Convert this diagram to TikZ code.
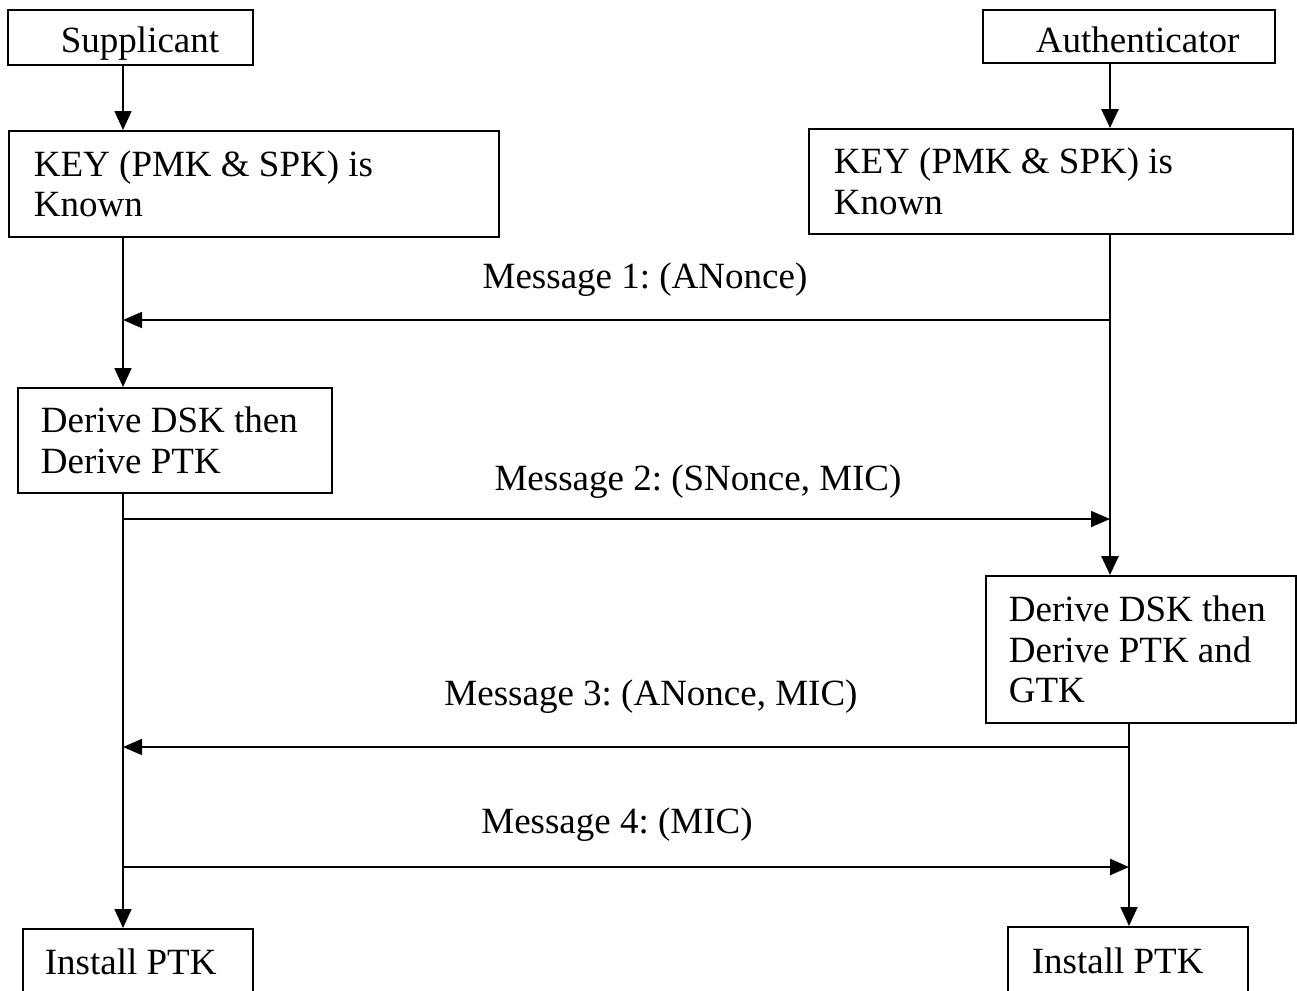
\documentclass[tikz,border=0pt]{standalone}
\usepackage{fontspec}
\setmainfont{Liberation Serif}
\usetikzlibrary{arrows.meta}
\begin{document}
\begin{tikzpicture}[x=1pt,y=-1pt,
  txt/.style={font=\fontsize{37}{40.5}\selectfont\frenchspacing},
  box/.style={txt,draw,line width=1.8pt,anchor=north west,align=flush left,inner ysep=0pt},
  arr/.style={line width=1.7pt,-{Triangle[length=19pt,width=17pt]}},
  thickarr/.style={line width=2.8pt,-{Triangle[length=19pt,width=17pt]}},
  msgarr/.style={line width=1.6pt,-{Triangle[length=19pt,width=16pt]}}]
\useasboundingbox (0,0) rectangle (1297,990);
\clip (0,0) rectangle (1297,990);

% boxes
\node[box,minimum width=245pt,minimum height=55pt,text width=205pt,inner xsep=20pt,text height=35pt,text depth=4pt] (sup) at (7,9) {\hspace*{33pt}Supplicant};
\node[box,minimum width=292pt,minimum height=53pt,text width=252pt,inner xsep=20pt,text height=36pt,text depth=3pt] (auth) at (982,9) {\hspace*{33pt}Authenticator};
\node[box,minimum width=490pt,minimum height=106pt,text width=440pt,inner xsep=25pt] (keyL) at (8,130) {KEY (PMK \& SPK) is\\Known};
\node[box,minimum width=484pt,minimum height=105pt,text width=434pt,inner xsep=25pt] (keyR) at (808,128) {KEY (PMK \& SPK) is\\Known};
\node[box,minimum width=314pt,minimum height=105pt,text width=268pt,inner xsep=23pt] (derL) at (17,387) {Derive DSK then\\Derive PTK};
\node[box,minimum width=310pt,minimum height=147pt,text width=264pt,inner xsep=23pt] (derR) at (985,575) {Derive DSK then\\Derive PTK and\\GTK};
\node[box,minimum width=230pt,minimum height=66pt,text width=186pt,inner xsep=22pt] (instL) at (22,928) {Install PTK};
\node[box,minimum width=240pt,minimum height=68pt,text width=192pt,inner xsep=24pt] (instR) at (1007,926) {Install PTK};

% lifeline positions
\coordinate (xl) at (123,0);
\coordinate (xr) at (1110,0);
\coordinate (xr2) at (1129,0);

% vertical connectors
\draw[arr] (sup.south -| xl) -- (keyL.north -| xl);
\draw[thickarr] (auth.south -| xr) -- (keyR.north -| xr);
\draw[arr] (keyL.south -| xl) -- (derL.north -| xl);
\draw[thickarr] (keyR.south -| xr) -- (derR.north -| xr);
\draw[arr] (derL.south -| xl) -- (instL.north -| xl);
\draw[arr] (derR.south -| xr2) -- (instR.north -| xr2);

% messages
\coordinate (m1a) at (1110,320);
\coordinate (m1b) at (123,320);
\coordinate (m2a) at (123,519);
\coordinate (m2b) at (1110,519);
\coordinate (m3a) at (1129,747);
\coordinate (m3b) at (123,747);
\coordinate (m4a) at (123,867);
\coordinate (m4b) at (1129,867);
\draw[msgarr] (m1a) -- (m1b);
\draw[msgarr] (m2a) -- (m2b);
\draw[msgarr] (m3a) -- (m3b);
\draw[msgarr,line width=2.4pt] (m4a) -- (m4b);

\node[txt] (l1) at (645,280) {Message 1: (ANonce)};
\node[txt] (l2) at (698,482) {Message 2: (SNonce, MIC)};
\node[txt] (l3) at (651,697) {Message 3: (ANonce, MIC)};
\node[txt] (l4) at (617,825) {Message 4: (MIC)};
\end{tikzpicture}
\end{document}
